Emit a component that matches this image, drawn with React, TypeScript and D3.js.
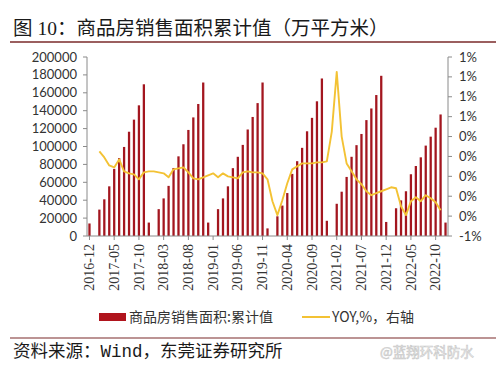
import React from "react";
import * as d3 from "d3";

const months = [
  "2016-12",
  "2017-01","2017-02","2017-03","2017-04","2017-05","2017-06","2017-07","2017-08","2017-09","2017-10","2017-11","2017-12",
  "2018-01","2018-02","2018-03","2018-04","2018-05","2018-06","2018-07","2018-08","2018-09","2018-10","2018-11","2018-12",
  "2019-01","2019-02","2019-03","2019-04","2019-05","2019-06","2019-07","2019-08","2019-09","2019-10","2019-11","2019-12",
  "2020-01","2020-02","2020-03","2020-04","2020-05","2020-06","2020-07","2020-08","2020-09","2020-10","2020-11","2020-12",
  "2021-01","2021-02","2021-03","2021-04","2021-05","2021-06","2021-07","2021-08","2021-09","2021-10","2021-11","2021-12",
  "2022-01","2022-02","2022-03","2022-04","2022-05","2022-06","2022-07","2022-08","2022-09","2022-10","2022-11","2022-12",
];

// 商品房销售面积:累计值 (万平方米)
const salesArea: (number | null)[] = [
  14000,
  null, 29500, 41000, 55500, 75000, 87000, 99500, 116500, 130000, 146000, 169500, 15000,
  null, 30000, 42000, 56000, 76000, 89000, 102500, 118500, 132500, 147500, 171500, 15000,
  null, 30000, 42000, 55500, 75800, 88500, 101800, 119000, 133000, 148500, 171500, 8500,
  null, 22000, 34000, 48000, 69400, 83600, 98500, 117000, 132000, 150500, 176000, 17000,
  null, 36000, 49500, 66000, 88500, 101500, 114000, 129500, 142500, 157500, 179000, 15700,
  null, 31000, 39800, 50000, 69000, 78200, 87900, 101000, 111000, 121000, 135800, 15000,
];

// YOY,%  (right axis)
const yoy: (number | null)[] = [
  null,
  null, 0.25, 0.19, 0.11, 0.09, 0.17, 0.05, 0.03, 0.02, -0.03, 0.04, 0.05,
  0.05, 0.04, 0.03, -0.01, 0.07, 0.08, 0.09, 0.04, -0.02, -0.03, -0.01, 0.01,
  0.03, -0.01, 0.03, 0.0, -0.01, -0.02, 0.04, 0.05, 0.04, 0.04, 0.03, -0.03,
  -0.25, -0.39, -0.24, -0.07, 0.07, 0.1, 0.13, 0.13, 0.13, 0.14, 0.14, 0.15,
  0.45, 1.05, 0.4, 0.13, 0.05, -0.03, -0.08, -0.15, -0.19, -0.17, -0.15, -0.13,
  -0.11, -0.12, -0.3, -0.39, -0.25, -0.21, -0.25, -0.19, -0.22, -0.26, -0.34, null,
];

const xTickLabels = [
  "2016-12","2017-05","2017-10","2018-03","2018-08","2019-01","2019-06","2019-11",
  "2020-04","2020-09","2021-02","2021-07","2021-12","2022-05","2022-10",
];
const leftTicks = [0, 20000, 40000, 60000, 80000, 100000, 120000, 140000, 160000, 180000, 200000];
const rightTicks = [-0.6, -0.4, -0.2, 0, 0.2, 0.4, 0.6, 0.8, 1.0, 1.2];
const rightTickLabels = ["-1%", "0%", "0%", "0%", "0%", "0%", "1%", "1%", "1%", "1%"];

const title = "图 10：商品房销售面积累计值（万平方米）";
const legendBar = "商品房销售面积:累计值";
const legendLine = "YOY,%，右轴";
const source = "资料来源：Wind，东莞证券研究所";
const watermark = "@蓝翔环科防水";

export default function App() {
  const W = 496, H = 376;
  const left = 87, right = 448, top = 57, bottom = 236;

  const x = d3.scaleBand<string>().domain(months).range([left, right]).paddingInner(0.54).paddingOuter(0.27);
  const yL = d3.scaleLinear().domain([0, 200000]).range([bottom, top]);
  const yR = d3.scaleLinear().domain([-0.6, 1.2]).range([bottom, top]);
  const cx = (m: string) => (x(m) as number) + x.bandwidth() / 2;

  const line = d3
    .line<number | null>()
    .defined((d) => d !== null)
    .x((_, i) => cx(months[i]))
    .y((d) => yR(d as number));

  const axisColor = "#8a8a8a";
  const textColor = "#333";
  const numFont = "Lato, 'DejaVu Sans', sans-serif";

  return (
    <svg width={W} height={H} style={{ position: "absolute", left: 0, top: 0, background: "#fff" }}>
      <rect width={W} height={H} fill="#fff" />
      {/* title */}
      <text x={13} y={35} fontSize={19.5} fill="#1a1a1a" fontFamily="'Liberation Serif', 'Noto Sans CJK SC', serif">
        {title}
      </text>
      <line x1={10} x2={496} y1={42} y2={42} stroke="#7a2a2a" strokeWidth={1.5} />

      {/* bars */}
      {salesArea.map((v, i) =>
        v === null ? null : (
          <rect key={i} x={x(months[i])} y={yL(v)} width={x.bandwidth()} height={bottom - yL(v)} fill="#a3161f" />
        )
      )}

      {/* line */}
      <path d={line(yoy) || ""} fill="none" stroke="#f3c234" strokeWidth={1.9} strokeLinejoin="round" />

      {/* left axis */}
      <line x1={left} x2={left} y1={top} y2={bottom} stroke={axisColor} />
      {leftTicks.map((t) => (
        <g key={t}>
          <line x1={left - 4} x2={left} y1={yL(t)} y2={yL(t)} stroke={axisColor} />
          <text x={77} y={yL(t)} dy="0.35em" textAnchor="end" fontSize={13} fill={textColor} fontFamily={numFont}>
            {t}
          </text>
        </g>
      ))}

      {/* right axis */}
      <line x1={right} x2={right} y1={top} y2={bottom} stroke={axisColor} />
      {rightTicks.map((t, i) => (
        <g key={t}>
          <line x1={right} x2={right + 4} y1={yR(t)} y2={yR(t)} stroke={axisColor} />
          <text x={459} y={yR(t)} dy="0.35em" textAnchor="start" fontSize={13} fill={textColor} fontFamily={numFont}>
            {rightTickLabels[i]}
          </text>
        </g>
      ))}

      {/* x axis */}
      <line x1={left} x2={right} y1={bottom} y2={bottom} stroke={axisColor} />
      {xTickLabels.map((m) => (
        <g key={m}>
          <line x1={cx(m)} x2={cx(m)} y1={bottom} y2={bottom + 4} stroke={axisColor} />
          <text
            transform={`translate(${cx(m) + 4.6},${244}) rotate(-90)`}
            textAnchor="end"
            fontSize={14}
            fill={textColor}
            fontFamily="'Liberation Serif', serif"
          >
            {m}
          </text>
        </g>
      ))}

      {/* legend */}
      <rect x={99} y={313} width={27} height={8} fill="#b0141d" />
      <text x={129} y={317} dy="0.36em" fontSize={14} fill={textColor} fontFamily="'Noto Sans CJK SC', sans-serif">
        {legendBar}
      </text>
      <line x1={302} x2={330} y1={317} y2={317} stroke="#f3c234" strokeWidth={2} />
      <text x={332} y={317} dy="0.36em" fontSize={14} fill={textColor} fontFamily="'Noto Sans CJK SC', sans-serif">
        {legendLine}
      </text>

      {/* footer */}
      <line x1={10} x2={496} y1={338} y2={338} stroke="#7a2a2a" strokeWidth={1.2} />
      <text x={13} y={357} fontSize={17.5} fill="#1a1a1a" fontFamily="'Liberation Mono', 'Noto Sans CJK SC', monospace">
        {source}
      </text>
      <text x={380} y={357} fontSize={13.5} fill="#f4f4f4" stroke="#c8c8c8" strokeWidth={0.6} fontFamily="'Noto Sans CJK SC', sans-serif">
        {watermark}
      </text>
    </svg>
  );
}
